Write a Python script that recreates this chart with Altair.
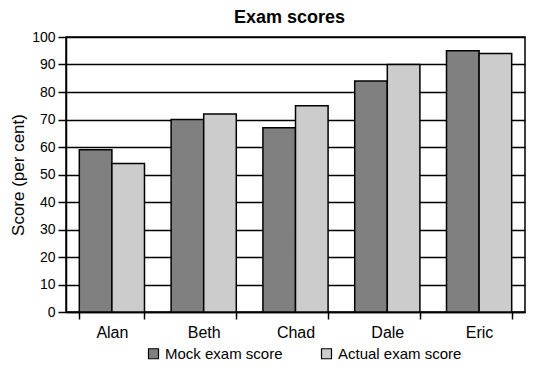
import altair as alt
import pandas as pd

students = ["Alan", "Beth", "Chad", "Dale", "Eric"]
mock = [59, 70, 67, 84, 95]
actual = [54, 72, 75, 90, 94]
series = ["Mock exam score", "Actual exam score"]
colors = ["#808080", "#cccccc"]

rows = []
for i, s in enumerate(students):
    rows.append({"Student": s, "Series": series[0], "Score": mock[i]})
    rows.append({"Student": s, "Series": series[1], "Score": actual[i]})
df = pd.DataFrame(rows)

FONT = "Liberation Sans Narrow, Arial Narrow, Liberation Sans, sans-serif"

chart = alt.Chart(df).mark_bar(stroke="black", strokeWidth=1.5).encode(
    x=alt.X("Student:N", sort=students, title=None,
            scale=alt.Scale(paddingInner=0.29, paddingOuter=0.145),
            axis=alt.Axis(labelAngle=0, tickBand="extent", labelFontSize=16,
                          labelColor="black", labelPadding=5, tickSize=7,
                          tickColor="black", domainColor="black",
                          tickWidth=1.5, domainWidth=1.5, grid=False, labelFont=FONT)),
    xOffset=alt.XOffset("Series:N", sort=series),
    y=alt.Y("Score:Q", title="Score (per cent)",
            scale=alt.Scale(domain=[0, 100]),
            axis=alt.Axis(values=list(range(0, 101, 10)), labelFontSize=14,
                          labelColor="black", tickSize=8, tickColor="black",
                          domainColor="black", tickWidth=1.5, domainWidth=1.5,
                          gridColor="black", gridWidth=1.5, gridOpacity=1,
                          titleFontSize=17, titleFontWeight="normal",
                          titleColor="black", titlePadding=4, labelFont=FONT,
                          titleFont=FONT, labelPadding=3)),
    color=alt.Color("Series:N", sort=series,
                    scale=alt.Scale(domain=series, range=colors),
                    legend=alt.Legend(title=None, orient="none", direction="horizontal",
                                      legendX=80, legendY=309, symbolType="square",
                                      symbolSize=100, symbolStrokeColor="black",
                                      symbolStrokeWidth=1.2, labelFontSize=15,
                                      labelColor="black", labelFont=FONT,
                                      columnPadding=36, labelOffset=4)),
).properties(
    width=459, height=275,
    title=alt.TitleParams("Exam scores", fontSize=18, fontWeight="bold",
                          font=FONT, color="black", anchor="middle", dx=-6, offset=3),
    padding={"left": 58, "top": 29, "right": 2, "bottom": 52},
    autosize=alt.AutoSizeParams(type="none"),
).configure_view(stroke="black", strokeWidth=1.5)

chart.save("out.html", embed_options={"renderer": "svg", "actions": False})
